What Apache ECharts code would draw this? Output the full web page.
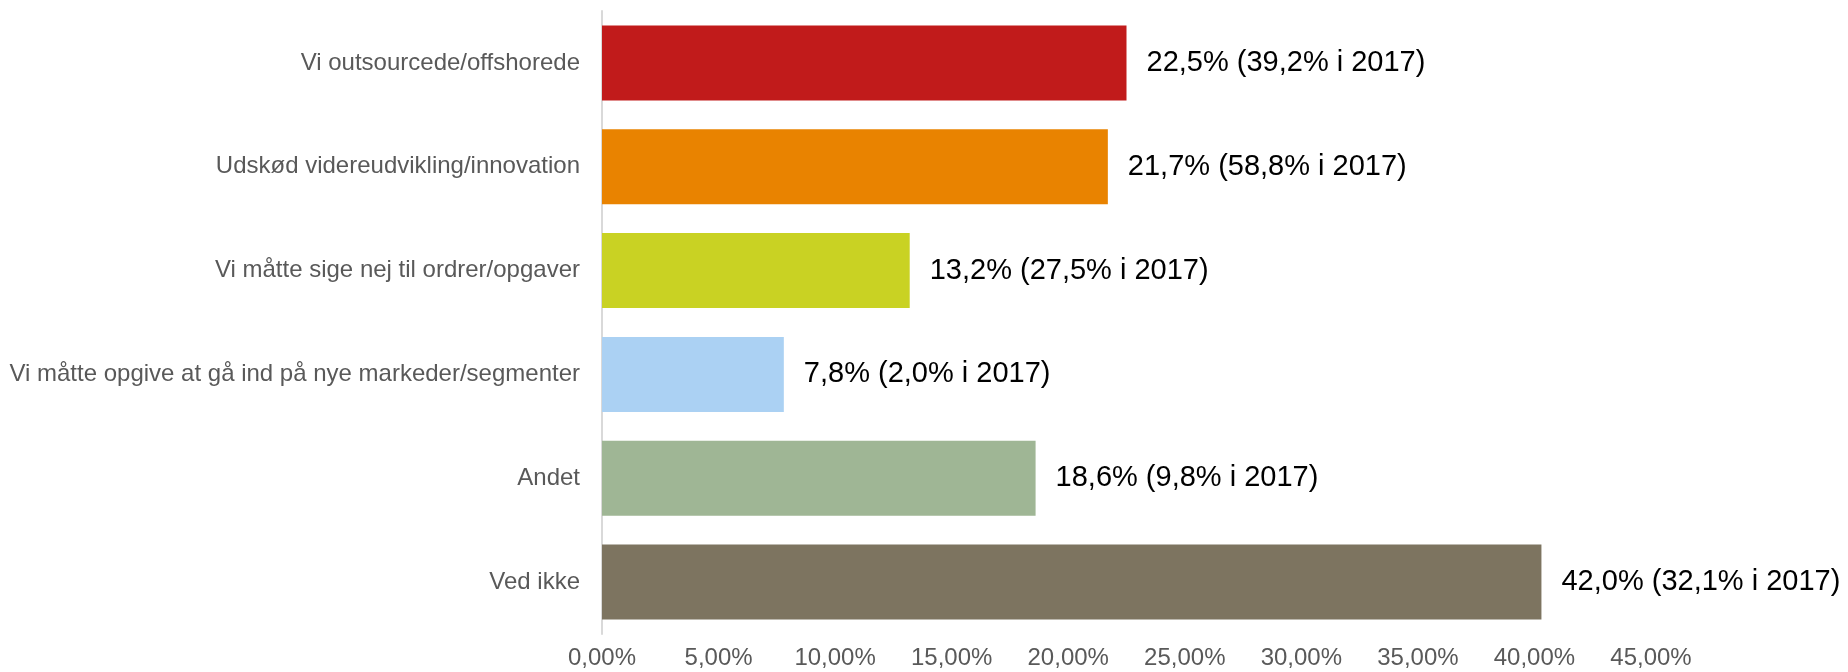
<!DOCTYPE html>
<html>
<head>
<meta charset="utf-8">
<script src="https://cdn.jsdelivr.net/npm/echarts@6/dist/echarts.min.js"></script>
<style>
  html, body { margin: 0; padding: 0; background: #fff; }
  #chart { width: 1848px; height: 672px; }
</style>
</head>
<body>
<div id="chart"></div>
<script>
// categories, top to bottom
var categories = [
    'Vi outsourcede/offshorede',
    'Udskød videreudvikling/innovation',
    'Vi måtte sige nej til ordrer/opgaver',
    'Vi måtte opgive at gå ind på nye markeder/segmenter',
    'Andet',
    'Ved ikke'
];
// bar lengths as drawn
var values = [22.5, 21.7, 13.2, 7.8, 18.6, 40.3];
// texts written next to the bars
var shownPct = ['22,5', '21,7', '13,2', '7,8', '18,6', '42,0'];
var pct2017 = ['39,2', '58,8', '27,5', '2,0', '9,8', '32,1'];
var xTicks = [0, 5, 10, 15, 20, 25, 30, 35, 40, 45];

var colors = ['#c11b1b', '#e98300', '#c9d223', '#abd1f3', '#9fb695', '#7d7460'];
var font = '"Liberation Sans", Arial, sans-serif';

var chart = echarts.init(document.getElementById('chart'));
var option = {
    animation: false,
    textStyle: { fontFamily: font },
    grid: {
        left: 602,
        right: 197,
        top: 11,
        bottom: 38,
        containLabel: false
    },
    xAxis: {
        type: 'value',
        min: xTicks[0],
        max: xTicks[xTicks.length - 1],
        interval: 5,
        axisLine: { show: false },
        axisTick: { show: false },
        splitLine: { show: false },
        axisLabel: {
            fontSize: 24,
            color: '#595959',
            fontFamily: font,
            margin: 12,
            formatter: function (v) {
                return v.toFixed(2).replace('.', ',') + '%';
            }
        }
    },
    yAxis: {
        type: 'category',
        inverse: true,
        data: categories,
        axisTick: { show: false },
        axisLine: {
            show: true,
            lineStyle: { color: '#d9d9d9', width: 2 }
        },
        axisLabel: {
            fontSize: 24,
            color: '#595959',
            fontFamily: font,
            margin: 22
        }
    },
    series: [{
        type: 'bar',
        barWidth: 75,
        data: values.map(function (v, i) {
            return { value: v, itemStyle: { color: colors[i] } };
        }),
        label: {
            show: true,
            position: 'right',
            distance: 20,
            fontSize: 29,
            color: '#000',
            fontFamily: font,
            formatter: function (p) {
                return shownPct[p.dataIndex] + '% (' + pct2017[p.dataIndex] + '% i 2017)';
            }
        }
    }]
};
chart.setOption(option);
</script>
</body>
</html>
